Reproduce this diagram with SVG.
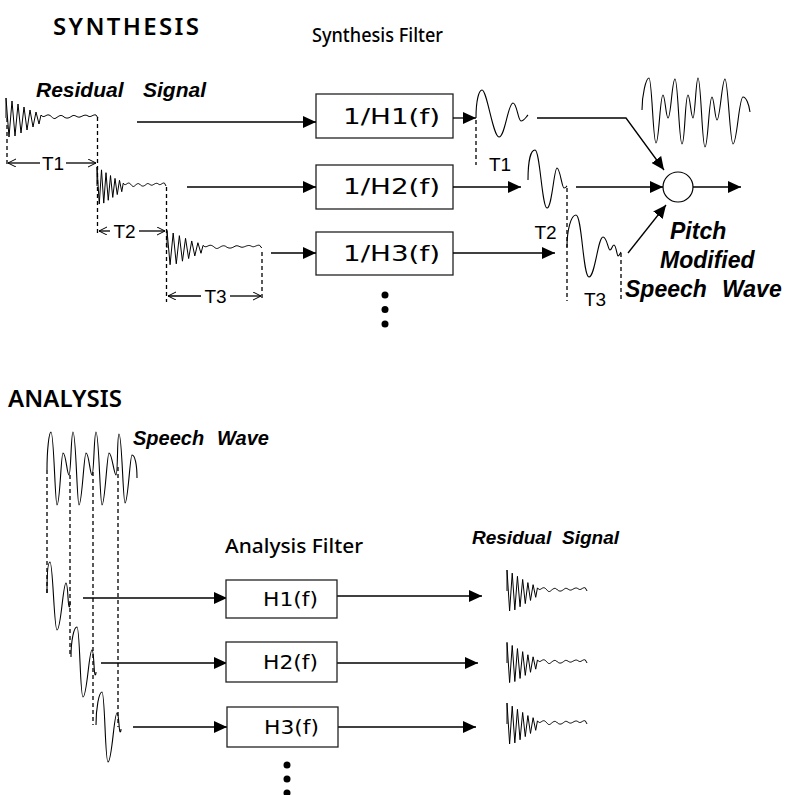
<svg xmlns="http://www.w3.org/2000/svg" xmlns:xlink="http://www.w3.org/1999/xlink" width="789" height="795" viewBox="0 0 789 795">
<style>
.ln{stroke:#000;stroke-width:1.3;fill:none}
.dash{stroke:#000;stroke-width:1.3;fill:none;stroke-dasharray:4 3}
.box{fill:#fff;stroke:#222;stroke-width:1.3}
.wave{fill:none;stroke:#000;stroke-width:1.1}
.h{font-family:"Noto Sans",sans-serif;font-weight:600;font-size:24px;fill:#000}
.lbl{font-family:"Noto Sans",sans-serif;font-weight:500;font-size:20px;fill:#000}
.bt{font-family:"DejaVu Sans",sans-serif;font-size:22px;fill:#000}
.bt2{font-family:"DejaVu Sans",sans-serif;font-size:20px;fill:#000}
.it{font-family:"Liberation Sans",Arial,sans-serif;font-weight:bold;font-style:italic;fill:#000}
.t{font-family:"Liberation Sans",Arial,sans-serif;font-size:19px;fill:#000}
.dot{fill:#000}
</style>
<defs>
<marker id="ah" markerUnits="userSpaceOnUse" markerWidth="14" markerHeight="12" refX="13" refY="6" orient="auto">
<path d="M0,0 L13,6 L0,12 z" fill="#000"/>
</marker>
<marker id="oh" markerUnits="userSpaceOnUse" markerWidth="10" markerHeight="10" refX="9" refY="4" orient="auto-start-reverse">
<path d="M1,0 L9,4 L1,8" fill="none" stroke="#000" stroke-width="1"/>
</marker>
<path id="res" vector-effect="non-scaling-stroke" fill="none" stroke="#000" stroke-width="1" d="M0,0 L0,-20 L3,19 L6,-17 L9,18 L12,-14 L15,15 L18,-11 L21,12 L24,-8 L27,9 L30,-6 L33,6 L35,-3 C38,1 40,-4 43,-3 C46,-2 47,2 50,0 C53,-2 55,-4 58,-1 C61,1 63,0 66,-2 C69,-4 71,0 74,-1 C77,-2 79,-4 82,-2 C85,0 87,-4 90,-3 L92,0"/>
</defs>
<rect width="789" height="795" fill="#fff"/>

<!-- ============ SYNTHESIS ============ -->
<g id="synthesis-labels">
<text class="h" font-size="25" x="53" y="35" textLength="146" lengthAdjust="spacing">SYNTHESIS</text>
<text class="it" font-size="21" y="97"><tspan x="36">Residual</tspan><tspan x="143">Signal</tspan></text>
<text class="lbl" font-size="21" x="312" y="42" textLength="131" lengthAdjust="spacingAndGlyphs">Synthesis Filter</text>
</g>

<g id="syn-residuals">
<use xlink:href="#res" transform="translate(6,118)"/>
<use xlink:href="#res" transform="translate(97,186) scale(0.75,0.95)"/>
<use xlink:href="#res" transform="translate(167,248) scale(1.03,0.88)"/>
<line class="dash" x1="7" y1="118" x2="7" y2="165"/>
<line class="dash" x1="97.5" y1="117" x2="97.5" y2="233"/>
<line class="dash" x1="166.5" y1="187" x2="166.5" y2="302"/>
<line class="dash" x1="262" y1="252" x2="262" y2="298"/>
</g>

<g id="syn-periods">
<line class="ln" x1="8" y1="163" x2="40" y2="163" marker-start="url(#oh)"/>
<line class="ln" x1="66" y1="163" x2="96" y2="163" marker-end="url(#oh)"/>
<text class="t" x="53" y="170" text-anchor="middle">T1</text>
<line class="ln" x1="99" y1="231" x2="110" y2="231" marker-start="url(#oh)"/>
<line class="ln" x1="139" y1="231" x2="165" y2="231" marker-end="url(#oh)"/>
<text class="t" x="124.5" y="238" text-anchor="middle">T2</text>
<line class="ln" x1="168" y1="296" x2="201" y2="296" marker-start="url(#oh)"/>
<line class="ln" x1="230" y1="296" x2="261" y2="296" marker-end="url(#oh)"/>
<text class="t" x="215.5" y="303" text-anchor="middle">T3</text>
</g>

<g id="box-1H1">
<rect class="box" x="316" y="94" width="137" height="44"/>
<text class="bt" x="343" y="124" textLength="97" lengthAdjust="spacingAndGlyphs">1/H1(f)</text>
</g>
<g id="box-1H2">
<rect class="box" x="316" y="165" width="137" height="44"/>
<text class="bt" x="343" y="194" textLength="97" lengthAdjust="spacingAndGlyphs">1/H2(f)</text>
</g>
<g id="box-1H3">
<rect class="box" x="316" y="232" width="137" height="43"/>
<text class="bt" x="343" y="261" textLength="97" lengthAdjust="spacingAndGlyphs">1/H3(f)</text>
</g>
<g id="syn-dots">
<circle class="dot" cx="385" cy="295" r="3.5"/>
<circle class="dot" cx="385" cy="309.5" r="3.5"/>
<circle class="dot" cx="385" cy="324" r="3.5"/>
</g>

<g id="syn-outputs">
<path class="wave" d="M476,118 C476,100 479,90 482,90 C487,90 493,137 499,137 C505,137 508,103 513,103 C517,103 518,121 521,121 C524,121 526,117 528,115"/>
<path class="wave" d="M528,180 C528,160 531,150 535,150 C540,150 542,208 547,208 C552,208 554,168 557,168 C560,168 562,188 564,188 C566,188 566,187 567,186"/>
<path class="wave" d="M567,247 C567,230 571,215 576,215 C582,215 583,277 589,277 C595,277 598,237 603,237 C607,237 608,250 610,250 C612,250 612,245 614,245 C616,245 617,256 618,256 C619,256 620,254 621,252"/>
<line class="dash" x1="476" y1="120" x2="476" y2="165"/>
<line class="dash" x1="567" y1="188" x2="567" y2="301"/>
<line class="dash" x1="621" y1="253" x2="621" y2="300"/>
<text class="t" x="500" y="171" text-anchor="middle">T1</text>
<text class="t" x="545.5" y="239" text-anchor="middle">T2</text>
<text class="t" x="595" y="306" text-anchor="middle">T3</text>
</g>

<g id="pitch-wave">
<path class="wave" d="M642,110 C642,95 646,78 649,78 C652,78 653,143 656,143 C659,143 660,95 663,95 C665,95 666,118 668,118 C671,118 672,79 675,79 C678,79 679,144 682,144 C685,144 685,95 688,95 C690,95 691,118 693,118 C695,118 696,78 698,78 C701,78 702,147 705,147 C708,147 709,97 712,97 C714,97 715,120 717,120 C720,120 722,79 725,79 C728,79 730,144 733,144 C737,144 739,97 743,97 C746,97 749,104 750,112"/>
</g>

<g id="sum-node">
<circle cx="678" cy="187" r="15" fill="#fff" stroke="#000" stroke-width="1.2"/>
</g>

<g id="syn-labels-right">
<text class="it" font-size="23" x="670" y="239">Pitch</text>
<text class="it" font-size="23" x="660" y="268">Modified</text>
<text class="it" font-size="23" y="297"><tspan x="625">Speech</tspan><tspan x="722">Wave</tspan></text>
</g>

<g id="connectors">
<line class="ln" x1="137" y1="122" x2="316" y2="122" marker-end="url(#ah)"/>
<line class="ln" x1="187" y1="187" x2="316" y2="187" marker-end="url(#ah)"/>
<line class="ln" x1="271" y1="253" x2="316" y2="253" marker-end="url(#ah)"/>
<line class="ln" x1="453" y1="118" x2="476" y2="118" marker-end="url(#ah)"/>
<line class="ln" x1="453" y1="187" x2="521" y2="187" marker-end="url(#ah)"/>
<line class="ln" x1="453" y1="253" x2="555" y2="253" marker-end="url(#ah)"/>
<polyline class="ln" points="537,118 626,118 664,170" marker-end="url(#ah)"/>
<line class="ln" x1="576" y1="187" x2="663" y2="187" marker-end="url(#ah)"/>
<line class="ln" x1="628" y1="253" x2="666" y2="205" marker-end="url(#ah)"/>
<line class="ln" x1="693" y1="187" x2="741" y2="187" marker-end="url(#ah)"/>
<line class="ln" x1="83" y1="598" x2="227" y2="598" marker-end="url(#ah)"/>
<line class="ln" x1="101" y1="663" x2="227" y2="663" marker-end="url(#ah)"/>
<line class="ln" x1="133" y1="727" x2="227" y2="727" marker-end="url(#ah)"/>
<line class="ln" x1="337" y1="596" x2="482" y2="596" marker-end="url(#ah)"/>
<line class="ln" x1="337" y1="663" x2="478" y2="663" marker-end="url(#ah)"/>
<line class="ln" x1="338" y1="727" x2="476" y2="727" marker-end="url(#ah)"/>
</g>

<!-- ============ ANALYSIS ============ -->
<g id="analysis-labels">
<text class="h" x="8" y="407" textLength="114" lengthAdjust="spacing">ANALYSIS</text>
<text class="it" font-size="20" y="445"><tspan x="133">Speech</tspan><tspan x="217">Wave</tspan></text>
<text class="lbl" x="225" y="553" textLength="138" lengthAdjust="spacingAndGlyphs">Analysis Filter</text>
<text class="it" font-size="19" y="544"><tspan x="472">Residual</tspan><tspan x="562">Signal</tspan></text>
</g>

<g id="ana-speech">
<path class="wave" d="M47,470 C47,450 49,432 51,432 C54,432 55,505 57,505 C60,505 61,453 63,453 C66,453 67,475 69,475 C71,475 71,432 73,432 C76,432 77,505 79,505 C82,505 84,453 86,453 C89,453 90,475 92,475 C94,475 94,432 96,432 C99,432 100,505 102,505 C105,505 107,453 109,453 C112,453 114,475 116,475 C118,475 117,434 119,434 C122,434 123,503 125,503 C128,503 130,455 132,455 C135,455 137,465 137,478"/>
<line class="dash" x1="47" y1="470" x2="47" y2="593"/>
<line class="dash" x1="70" y1="475" x2="70" y2="657"/>
<line class="dash" x1="93" y1="472" x2="93" y2="725"/>
<line class="dash" x1="118" y1="467" x2="118" y2="727"/>
<path class="wave" d="M47,593 C47,575 48,562 50,562 C53,562 54,630 57,630 C61,630 63,583 66,583 C68,583 68,607 69,607 C70,607 70,604 70,602"/>
<path class="wave" d="M71,657 C71,640 74,627 77,627 C80,627 80,697 83,697 C87,697 89,650 92,650 C94,650 94,675 95,675 C96,675 96,673 96,672"/>
<path class="wave" d="M96,725 C96,708 99,692 102,692 C105,692 105,762 108,762 C112,762 114,713 117,713 C119,713 119,732 120,732 C121,732 121,730 121,729"/>
</g>

<g id="box-H1">
<rect class="box" x="226" y="580" width="111" height="38"/>
<text class="bt2" x="263" y="606" textLength="55" lengthAdjust="spacingAndGlyphs">H1(f)</text>
</g>
<g id="box-H2">
<rect class="box" x="226" y="642" width="111" height="40"/>
<text class="bt2" x="263" y="669" textLength="55" lengthAdjust="spacingAndGlyphs">H2(f)</text>
</g>
<g id="box-H3">
<rect class="box" x="227" y="707" width="111" height="40"/>
<text class="bt2" x="264" y="734" textLength="55" lengthAdjust="spacingAndGlyphs">H3(f)</text>
</g>
<g id="ana-dots">
<circle class="dot" cx="287" cy="765" r="3.5"/>
<circle class="dot" cx="287" cy="779" r="3.5"/>
<circle class="dot" cx="287" cy="793" r="3.5"/>
</g>

<g id="ana-residuals">
<use xlink:href="#res" transform="translate(507,591) scale(0.87,1.05)"/>
<use xlink:href="#res" transform="translate(507,663) scale(0.87,1.03)"/>
<use xlink:href="#res" transform="translate(507,724) scale(0.87,1.05)"/>
</g>
</svg>
